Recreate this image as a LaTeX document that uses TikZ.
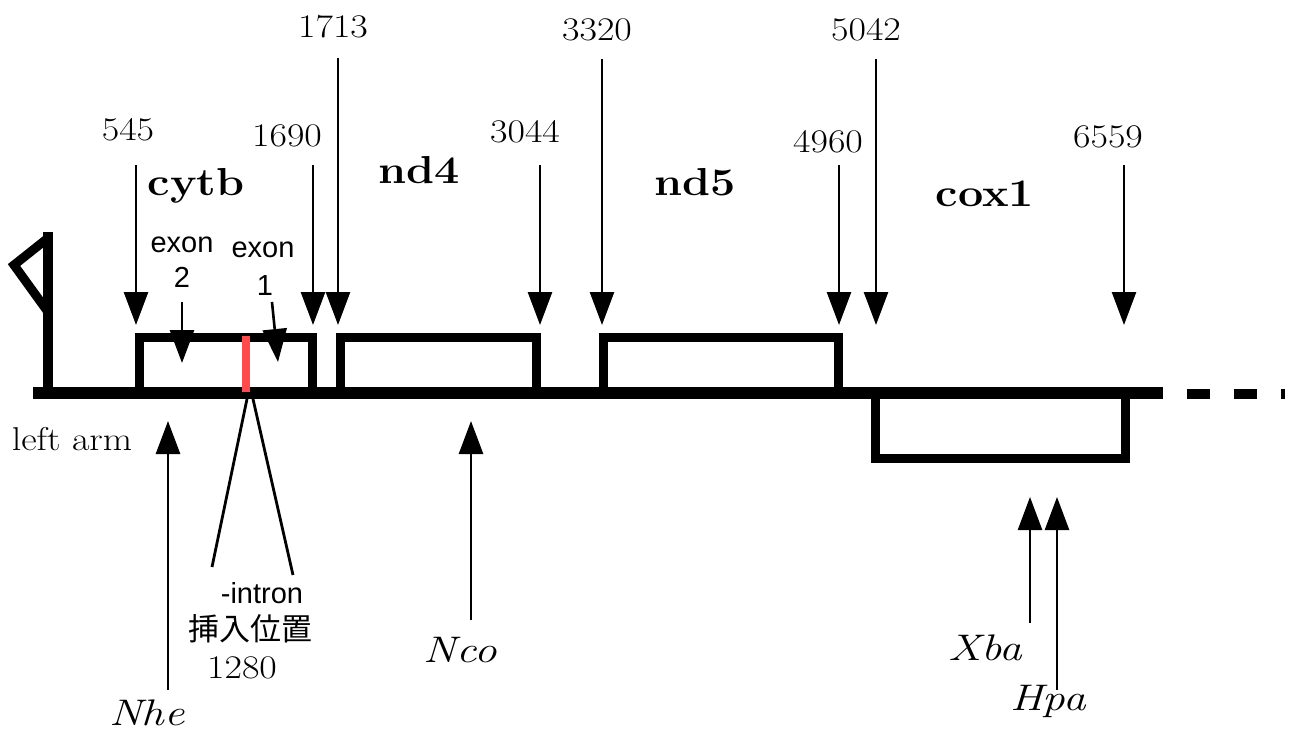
\documentclass[tikz,border=0pt]{standalone}
\usepackage{fontspec}
\newfontfamily\cjk{Noto Sans CJK JP}
\newfontfamily\sansf{Liberation Sans}
\newfontfamily\widerm[FakeStretch=1.15]{Latin Modern Roman}
\newfontfamily\wideit[FakeStretch=1.22]{Latin Modern Roman}
\usetikzlibrary{arrows.meta}
\definecolor{intronred}{HTML}{FF4B4B}
\tikzset{
  chrom/.style={line width=12pt},
  genebox/.style={line width=9pt, line join=miter},
  ptr/.style={line width=2.6pt, -{Triangle[length=33pt,width=24pt]}},
  thinline/.style={line width=2.8pt},
  num/.style={font=\widerm\fontsize{33}{36}\selectfont, anchor=base, inner sep=0pt},
  genelbl/.style={font=\widerm\fontsize{39}{42}\selectfont\bfseries, anchor=base, inner sep=0pt},
  sanslbl/.style={font=\sansf\fontsize{29}{32}\selectfont, anchor=base, inner sep=0pt},
  cjklbl/.style={font=\cjk\fontsize{31}{34}\selectfont, anchor=base, inner sep=0pt},
  enz/.style={font=\wideit\fontsize{37}{40}\selectfont\itshape, anchor=base, inner sep=0pt},
}
\begin{document}
\begin{tikzpicture}[x=1pt,y=-1pt]
\useasboundingbox (0,0) rectangle (1295,732);

% chromosome
\coordinate (cL) at (33,393);
\coordinate (cR) at (1163,393);
\draw[chrom] (cL) -- (cR);
\coordinate (dS) at (1187,394);
\coordinate (dE) at (1285,394);
\draw[line width=10pt, dash pattern=on 23pt off 24pt] (dS) -- (dE);

% telomere flag
\coordinate (fB) at (48,393);
\coordinate (fT) at (48,232);
\coordinate (f1) at (48,238);
\coordinate (f2) at (14,265);
\coordinate (f3) at (48,312);
\draw[line width=10pt] (fB) -- (fT);
\draw[line width=9pt, line join=miter] (f1) -- (f2) -- (f3);

% gene boxes
\draw[genebox] (139,393) -- (139,337) -- (312,337) -- (312,393);
\draw[genebox] (340,393) -- (340,337) -- (536,337) -- (536,393);
\draw[genebox] (603,393) -- (603,337) -- (838,337) -- (838,393);
\draw[genebox] (875,393) -- (875,458) -- (1125,458) -- (1125,393);

% intron position
\coordinate (rT) at (246,336);
\coordinate (rB) at (246,392);
\draw[line width=8pt, intronred] (rT) -- (rB);

% position labels and arrows
\node[num] (n545) at (128,140) {545};
\node[num] (n1690) at (287,146) {1690};
\node[num] (n1713) at (333,37) {1713};
\node[num] (n3044) at (525,142) {3044};
\node[num] (n3320) at (597,40) {3320};
\node[num] (n4960) at (828,152) {4960};
\node[num] (n5042) at (866,40) {5042};
\node[num] (n6559) at (1108,147) {6559};

\coordinate (a545s) at (136,165);  \coordinate (a545e) at (136,325);
\coordinate (a1690s) at (313,165); \coordinate (a1690e) at (313,325);
\coordinate (a1713s) at (338,58);  \coordinate (a1713e) at (338,325);
\coordinate (a3044s) at (540,165); \coordinate (a3044e) at (540,325);
\coordinate (a3320s) at (602,59);  \coordinate (a3320e) at (602,325);
\coordinate (a4960s) at (839,165); \coordinate (a4960e) at (839,325);
\coordinate (a5042s) at (876,59);  \coordinate (a5042e) at (876,325);
\coordinate (a6559s) at (1124,165);\coordinate (a6559e) at (1124,325);
\foreach \p in {545,1690,1713,3044,3320,4960,5042,6559}
  \draw[ptr] (a\p s) -- (a\p e);

% gene names
\node[genelbl] (cytb) at (196,195) {cytb};
\node[genelbl] (nd4) at (419,183) {nd4};
\node[genelbl] (nd5) at (695,195) {nd5};
\node[genelbl] (cox1) at (985,206) {cox1};

% exon labels
\node[sanslbl] (ex2a) at (182,252) {exon};
\node[sanslbl] (ex2b) at (182,287) {2};
\node[sanslbl] (ex1a) at (263,257) {exon};
\node[sanslbl] (ex1b) at (265,295) {1};
\coordinate (e2s) at (182,302); \coordinate (e2e) at (182,363);
\coordinate (e1s) at (272,302); \coordinate (e1e) at (278,362);
\draw[ptr] (e2s) -- (e2e);
\draw[ptr] (e1s) -- (e1e);

% left arm
\node[num] (larm) at (72,450) {left arm};

% intron insertion lines
\coordinate (i1s) at (247,399); \coordinate (i1e) at (212,567);
\coordinate (i2s) at (253,399); \coordinate (i2e) at (293,575);
\draw[thinline] (i1s) -- (i1e);
\draw[thinline] (i2s) -- (i2e);
\node[sanslbl] (intr) at (262,603) {-intron};
\node[cjklbl] (ins) at (250,640) {挿入位置};
\node[num] (n1280) at (242,678) {1280};

% restriction sites
\coordinate (nheS) at (168,690); \coordinate (nheE) at (168,421);
\coordinate (ncoS) at (471,620); \coordinate (ncoE) at (471,421);
\coordinate (xbaS) at (1030,623); \coordinate (xbaE) at (1030,497);
\coordinate (hpaS) at (1057,690); \coordinate (hpaE) at (1057,497);
\draw[ptr] (nheS) -- (nheE);
\draw[ptr] (ncoS) -- (ncoE);
\draw[ptr] (xbaS) -- (xbaE);
\draw[ptr] (hpaS) -- (hpaE);
\node[enz] (nhe) at (147,725) {Nhe};
\node[enz] (nco) at (460,662) {Nco};
\node[enz] (xba) at (985,660) {Xba};
\node[enz] (hpa) at (1048,710) {Hpa};
\end{tikzpicture}
\end{document}
